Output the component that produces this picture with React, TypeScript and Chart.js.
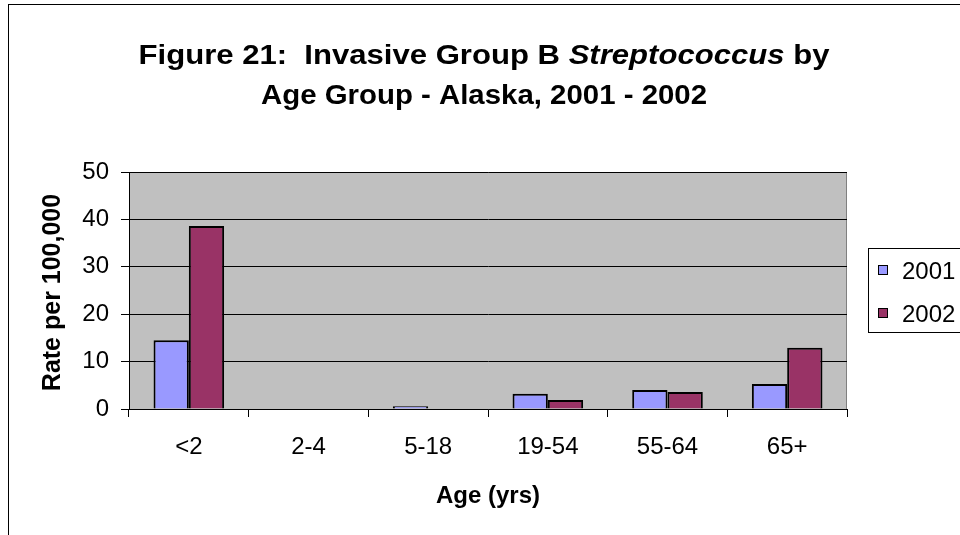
import React, { useEffect, useRef } from "react";
import { Chart, registerables } from "chart.js";

Chart.register(...registerables);

const categories = ["<2", "2-4", "5-18", "19-54", "55-64", "65+"];
const seriesNames = ["2001", "2002"];
const values2001 = [14.5, 0, 0.6, 3.2, 4.0, 5.3];
const values2002 = [38.6, 0, 0, 1.9, 3.6, 12.9];
const seriesColors = ["#9999FF", "#993366"];
const yTicks = [0, 10, 20, 30, 40, 50];
const titleLine1 = [
  { text: "Figure 21:  Invasive Group B ", italic: false },
  { text: "Streptococcus", italic: true },
  { text: " by", italic: false },
];
const titleLine2 = [{ text: "Age Group - Alaska, 2001 - 2002", italic: false }];
const yTitle = "Rate per 100,000";
const xTitle = "Age (yrs)";

const FONT = '"Liberation Sans", Arial, Helvetica, sans-serif';

function drawRich(ctx: CanvasRenderingContext2D, pieces: { text: string; italic: boolean }[], cx: number, baseline: number, size: number, sx: number) {
  ctx.save();
  const widths = pieces.map((p) => {
    ctx.font = `${p.italic ? "italic " : ""}bold ${size}px ${FONT}`;
    return ctx.measureText(p.text).width;
  });
  const total = widths.reduce((a, b) => a + b, 0);
  ctx.translate(cx, baseline);
  ctx.scale(sx, 1);
  ctx.fillStyle = "#000";
  ctx.textBaseline = "alphabetic";
  ctx.textAlign = "left";
  let x = -total / 2;
  pieces.forEach((p, i) => {
    ctx.font = `${p.italic ? "italic " : ""}bold ${size}px ${FONT}`;
    ctx.fillText(p.text, x, 0);
    x += widths[i];
  });
  ctx.restore();
}

const decorPlugin = {
  id: "decor",
  beforeDraw(chart: any) {
    const { ctx, chartArea } = chart;
    ctx.save();
    ctx.fillStyle = "#FFFFFF";
    ctx.fillRect(0, 0, chart.width, chart.height);
    ctx.strokeStyle = "#000";
    ctx.lineWidth = 1;
    ctx.strokeRect(8.5, 4.5, chart.width + 20, chart.height + 20);
    ctx.fillStyle = "#C0C0C0";
    ctx.fillRect(chartArea.left, chartArea.top, chartArea.right - chartArea.left, chartArea.bottom - chartArea.top);
    ctx.strokeStyle = "#808080";
    ctx.beginPath();
    ctx.moveTo(chartArea.left, chartArea.top + 0.5);
    ctx.lineTo(chartArea.right - 0.5, chartArea.top + 0.5);
    ctx.lineTo(chartArea.right - 0.5, chartArea.bottom);
    ctx.stroke();
    ctx.restore();
  },
  afterDraw(chart: any) {
    const { ctx, chartArea } = chart;
    const cx = (chartArea.left + chartArea.right) / 2;
    // Title
    drawRich(ctx, titleLine1, 484, 64, 28, 1.11);
    drawRich(ctx, titleLine2, 484, 104, 28, 1.05);
    // Y title
    ctx.save();
    ctx.translate(60, (chartArea.top + chartArea.bottom) / 2 + 2);
    ctx.rotate(-Math.PI / 2);
    ctx.font = `bold 25px ${FONT}`;
    ctx.fillStyle = "#000";
    ctx.textAlign = "center";
    ctx.textBaseline = "alphabetic";
    ctx.fillText(yTitle, 0, 0);
    ctx.restore();
    // X title
    drawRich(ctx, [{ text: xTitle, italic: false }], cx, 503, 24, 1.0);
    // Legend
    ctx.save();
    ctx.strokeStyle = "#000";
    ctx.lineWidth = 1;
    ctx.fillStyle = "#FFFFFF";
    ctx.fillRect(868.5, 248.5, 120, 84);
    ctx.strokeRect(868.5, 248.5, 120, 84);
    chart.data.datasets.forEach((ds: any, i: number) => {
      const y = 270 + i * 43;
      ctx.fillStyle = ds.backgroundColor;
      ctx.fillRect(878.5, y - 4.5, 9, 9);
      ctx.strokeStyle = "#000";
      ctx.strokeRect(878.5, y - 4.5, 9, 9);
      ctx.fillStyle = "#000";
      ctx.font = `24px ${FONT}`;
      ctx.textAlign = "left";
      ctx.textBaseline = "alphabetic";
      ctx.fillText(ds.label, 902, y + 8.5);
    });
    ctx.restore();
  },
};

export default function App() {
  const ref = useRef<HTMLCanvasElement | null>(null);
  useEffect(() => {
    document.body.style.margin = "0";
    const canvas = ref.current!;
    const chart = new Chart(canvas, {
      type: "bar",
      data: {
        labels: categories,
        datasets: [values2001, values2002].map((v, i) => ({
          label: seriesNames[i],
          data: v,
          backgroundColor: seriesColors[i],
          borderColor: "#000000",
          borderWidth: 2,
          borderSkipped: "bottom",
          categoryPercentage: 0.59,
          barPercentage: 1.0,
        })),
      },
      options: {
        responsive: false,
        animation: false,
        devicePixelRatio: 1,
        layout: { padding: { top: 172, right: 113, left: 0, bottom: 0 } },
        plugins: {
          legend: { display: false },
          title: { display: false },
          tooltip: { enabled: false },
        },
        scales: {
          x: {
            offset: true,
            grid: { drawOnChartArea: false, drawTicks: true, tickLength: 8, color: "#000", offset: true },
            border: { display: true, color: "#000", width: 1 },
            ticks: { color: "#000", font: { family: FONT, size: 24 }, padding: 16, maxRotation: 0 },
            afterFit: (s: any) => { s.height = 126; },
          },
          y: {
            min: 0,
            max: 50,
            afterBuildTicks: (s: any) => { s.ticks = yTicks.map((v) => ({ value: v })); },
            grid: { color: "#000", lineWidth: 1, drawTicks: true, tickLength: 8 },
            border: { display: true, color: "#000", width: 1 },
            ticks: { color: "#000", font: { family: FONT, size: 24 }, padding: 12 },
            afterFit: (s: any) => { s.width = 129; },
          },
        },
      },
      plugins: [decorPlugin],
    });
    return () => chart.destroy();
  }, []);
  return <canvas ref={ref} width={960} height={535} style={{ display: "block" }} />;
}
